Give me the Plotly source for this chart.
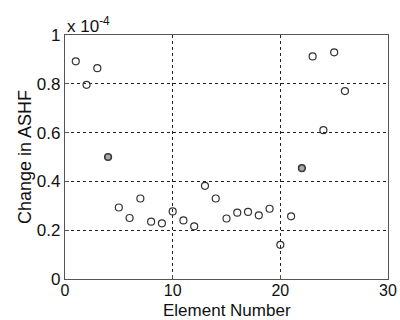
import plotly.graph_objects as go

elements = list(range(1, 27))
change = [0.892, 0.796, 0.864, 0.50, 0.293, 0.25, 0.33, 0.235, 0.228, 0.277,
          0.24, 0.216, 0.382, 0.33, 0.248, 0.272, 0.275, 0.261, 0.288, 0.14,
          0.257, 0.454, 0.912, 0.61, 0.929, 0.77]
marked = [4, 22]
x_ticks = [0, 10, 20, 30]
y_ticks = [0, 0.2, 0.4, 0.6, 0.8, 1]
y_ticklabels = ["0", "0.2", "0.4", "0.6", "0.8", "1"]
x_title = "Element Number"
y_title = "Change in ASHF"

fig = go.Figure()
fig.add_trace(go.Scatter(
    x=elements, y=change, mode="markers",
    marker=dict(symbol="circle-open", size=7, color="#333333", line=dict(width=1.2)),
    showlegend=False))
fig.add_trace(go.Scatter(
    x=marked, y=[change[i - 1] for i in marked], mode="markers",
    marker=dict(symbol="circle", size=6, color="#aaaaaa", line=dict(width=1, color="#444444")),
    showlegend=False))

axis_common = dict(showline=True, linecolor="#555555", linewidth=1.2, mirror=True,
                   ticks="inside", ticklen=4, tickcolor="#555555",
                   showgrid=True, gridcolor="#222222", griddash="dot", gridwidth=1,
                   zeroline=False, automargin=False)
fig.update_xaxes(range=[0, 30], tickvals=x_ticks, ticklabelstandoff=-3,
                 tickfont=dict(size=16, color="#111111"), **axis_common)
fig.update_yaxes(range=[0, 1], tickvals=y_ticks, ticktext=y_ticklabels,
                 tickfont=dict(size=17, color="#111111"), **axis_common)

fig.add_annotation(xref="paper", yref="paper", x=0.5, y=0, xanchor="center", yanchor="bottom",
                   yshift=-42, text=x_title, showarrow=False, borderpad=0,
                   font=dict(size=17, color="#111111"))
fig.add_annotation(xref="paper", yref="paper", x=0, y=0.5, xanchor="center", yanchor="middle",
                   xshift=-40, textangle=-90, text=y_title, showarrow=False,
                   font=dict(size=18, color="#111111"))
fig.add_annotation(xref="paper", yref="paper", x=0.0, y=1.0, xanchor="left", yanchor="bottom",
                   yshift=-3, text="x 10<sup>-4</sup>", showarrow=False,
                   font=dict(size=17, color="#111111"))
fig.update_layout(width=400, height=320, margin=dict(l=65, r=12, t=35, b=41),
                  plot_bgcolor="white", paper_bgcolor="white",
                  font=dict(family="Liberation Sans, Arial, sans-serif"))
fig.write_html("out.html")
